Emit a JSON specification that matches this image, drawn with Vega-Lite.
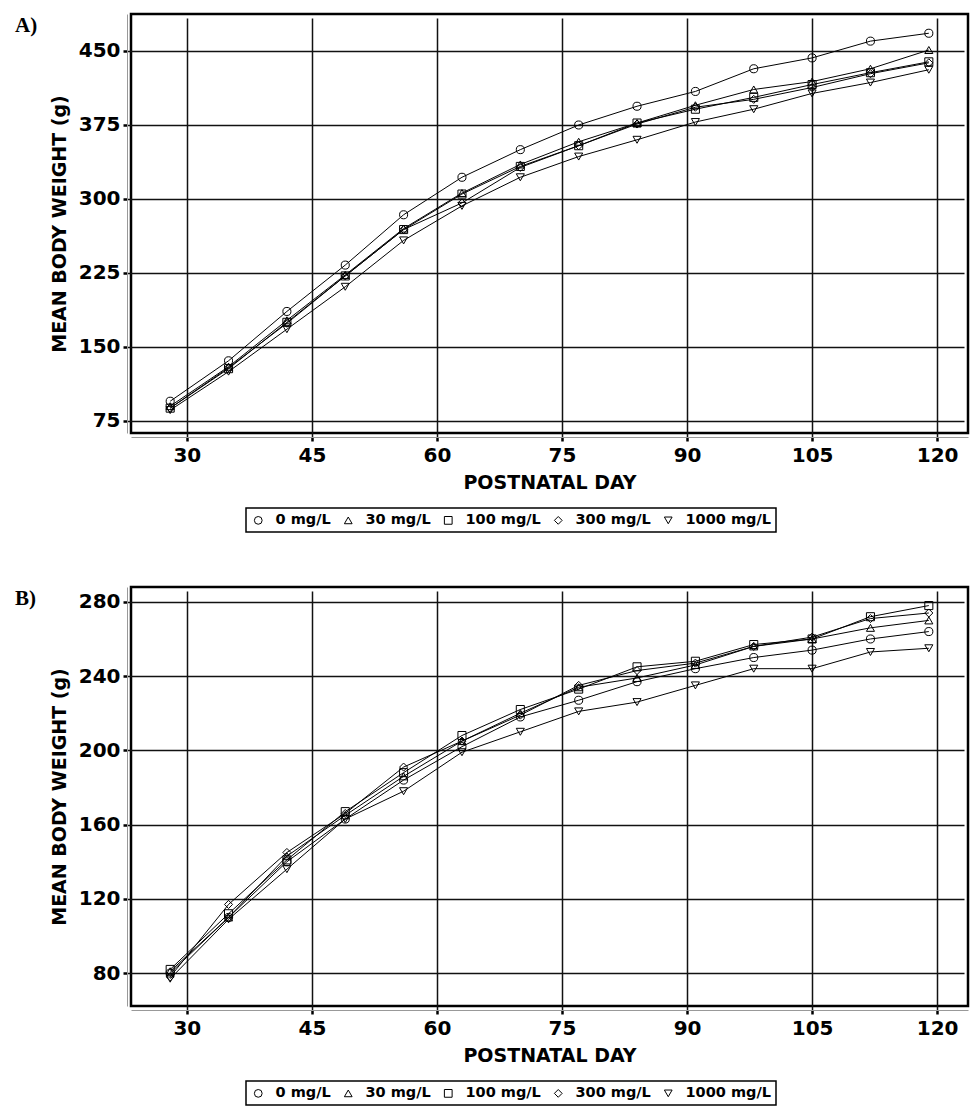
{
  "$schema": "https://vega.github.io/schema/vega-lite/v6.json",
  "padding": {"left": 13, "top": 12, "right": 2, "bottom": 0},
  "background": "white",
  "spacing": 51,
  "datasets": {
    "a": [
      {"day": 28, "dose": "0 mg/L", "weight": 95}, {"day": 28, "dose": "30 mg/L", "weight": 90}, {"day": 28, "dose": "100 mg/L", "weight": 88}, {"day": 28, "dose": "300 mg/L", "weight": 88}, {"day": 28, "dose": "1000 mg/L", "weight": 86},
      {"day": 35, "dose": "0 mg/L", "weight": 136}, {"day": 35, "dose": "30 mg/L", "weight": 130}, {"day": 35, "dose": "100 mg/L", "weight": 128}, {"day": 35, "dose": "300 mg/L", "weight": 129}, {"day": 35, "dose": "1000 mg/L", "weight": 125},
      {"day": 42, "dose": "0 mg/L", "weight": 186}, {"day": 42, "dose": "30 mg/L", "weight": 177}, {"day": 42, "dose": "100 mg/L", "weight": 175}, {"day": 42, "dose": "300 mg/L", "weight": 174}, {"day": 42, "dose": "1000 mg/L", "weight": 168},
      {"day": 49, "dose": "0 mg/L", "weight": 233}, {"day": 49, "dose": "30 mg/L", "weight": 223}, {"day": 49, "dose": "100 mg/L", "weight": 222}, {"day": 49, "dose": "300 mg/L", "weight": 222}, {"day": 49, "dose": "1000 mg/L", "weight": 211},
      {"day": 56, "dose": "0 mg/L", "weight": 284}, {"day": 56, "dose": "30 mg/L", "weight": 270}, {"day": 56, "dose": "100 mg/L", "weight": 269}, {"day": 56, "dose": "300 mg/L", "weight": 269}, {"day": 56, "dose": "1000 mg/L", "weight": 258},
      {"day": 63, "dose": "0 mg/L", "weight": 322}, {"day": 63, "dose": "30 mg/L", "weight": 306}, {"day": 63, "dose": "100 mg/L", "weight": 305}, {"day": 63, "dose": "300 mg/L", "weight": 296}, {"day": 63, "dose": "1000 mg/L", "weight": 293},
      {"day": 70, "dose": "0 mg/L", "weight": 350}, {"day": 70, "dose": "30 mg/L", "weight": 335}, {"day": 70, "dose": "100 mg/L", "weight": 333}, {"day": 70, "dose": "300 mg/L", "weight": 332}, {"day": 70, "dose": "1000 mg/L", "weight": 322},
      {"day": 77, "dose": "0 mg/L", "weight": 375}, {"day": 77, "dose": "30 mg/L", "weight": 358}, {"day": 77, "dose": "100 mg/L", "weight": 354}, {"day": 77, "dose": "300 mg/L", "weight": 354}, {"day": 77, "dose": "1000 mg/L", "weight": 343},
      {"day": 84, "dose": "0 mg/L", "weight": 394}, {"day": 84, "dose": "30 mg/L", "weight": 377}, {"day": 84, "dose": "100 mg/L", "weight": 377}, {"day": 84, "dose": "300 mg/L", "weight": 376}, {"day": 84, "dose": "1000 mg/L", "weight": 360},
      {"day": 91, "dose": "0 mg/L", "weight": 409}, {"day": 91, "dose": "30 mg/L", "weight": 395}, {"day": 91, "dose": "100 mg/L", "weight": 391}, {"day": 91, "dose": "300 mg/L", "weight": 393}, {"day": 91, "dose": "1000 mg/L", "weight": 378},
      {"day": 98, "dose": "0 mg/L", "weight": 432}, {"day": 98, "dose": "30 mg/L", "weight": 411}, {"day": 98, "dose": "100 mg/L", "weight": 403}, {"day": 98, "dose": "300 mg/L", "weight": 401}, {"day": 98, "dose": "1000 mg/L", "weight": 391},
      {"day": 105, "dose": "0 mg/L", "weight": 443}, {"day": 105, "dose": "30 mg/L", "weight": 419}, {"day": 105, "dose": "100 mg/L", "weight": 416}, {"day": 105, "dose": "300 mg/L", "weight": 413}, {"day": 105, "dose": "1000 mg/L", "weight": 407},
      {"day": 112, "dose": "0 mg/L", "weight": 460}, {"day": 112, "dose": "30 mg/L", "weight": 432}, {"day": 112, "dose": "100 mg/L", "weight": 428}, {"day": 112, "dose": "300 mg/L", "weight": 427}, {"day": 112, "dose": "1000 mg/L", "weight": 418},
      {"day": 119, "dose": "0 mg/L", "weight": 468}, {"day": 119, "dose": "30 mg/L", "weight": 451}, {"day": 119, "dose": "100 mg/L", "weight": 439}, {"day": 119, "dose": "300 mg/L", "weight": 438}, {"day": 119, "dose": "1000 mg/L", "weight": 431}
    ],
    "b": [
      {"day": 28, "dose": "0 mg/L", "weight": 80}, {"day": 28, "dose": "30 mg/L", "weight": 81}, {"day": 28, "dose": "100 mg/L", "weight": 82}, {"day": 28, "dose": "300 mg/L", "weight": 78}, {"day": 28, "dose": "1000 mg/L", "weight": 77},
      {"day": 35, "dose": "0 mg/L", "weight": 110}, {"day": 35, "dose": "30 mg/L", "weight": 110}, {"day": 35, "dose": "100 mg/L", "weight": 112}, {"day": 35, "dose": "300 mg/L", "weight": 117}, {"day": 35, "dose": "1000 mg/L", "weight": 109},
      {"day": 42, "dose": "0 mg/L", "weight": 140}, {"day": 42, "dose": "30 mg/L", "weight": 143}, {"day": 42, "dose": "100 mg/L", "weight": 141}, {"day": 42, "dose": "300 mg/L", "weight": 145}, {"day": 42, "dose": "1000 mg/L", "weight": 136},
      {"day": 49, "dose": "0 mg/L", "weight": 163}, {"day": 49, "dose": "30 mg/L", "weight": 165}, {"day": 49, "dose": "100 mg/L", "weight": 167}, {"day": 49, "dose": "300 mg/L", "weight": 166}, {"day": 49, "dose": "1000 mg/L", "weight": 163},
      {"day": 56, "dose": "0 mg/L", "weight": 184}, {"day": 56, "dose": "30 mg/L", "weight": 186}, {"day": 56, "dose": "100 mg/L", "weight": 188}, {"day": 56, "dose": "300 mg/L", "weight": 191}, {"day": 56, "dose": "1000 mg/L", "weight": 178},
      {"day": 63, "dose": "0 mg/L", "weight": 202}, {"day": 63, "dose": "30 mg/L", "weight": 205}, {"day": 63, "dose": "100 mg/L", "weight": 208}, {"day": 63, "dose": "300 mg/L", "weight": 205}, {"day": 63, "dose": "1000 mg/L", "weight": 199},
      {"day": 70, "dose": "0 mg/L", "weight": 218}, {"day": 70, "dose": "30 mg/L", "weight": 220}, {"day": 70, "dose": "100 mg/L", "weight": 222}, {"day": 70, "dose": "300 mg/L", "weight": 219}, {"day": 70, "dose": "1000 mg/L", "weight": 210},
      {"day": 77, "dose": "0 mg/L", "weight": 227}, {"day": 77, "dose": "30 mg/L", "weight": 234}, {"day": 77, "dose": "100 mg/L", "weight": 233}, {"day": 77, "dose": "300 mg/L", "weight": 235}, {"day": 77, "dose": "1000 mg/L", "weight": 221},
      {"day": 84, "dose": "0 mg/L", "weight": 237}, {"day": 84, "dose": "30 mg/L", "weight": 239}, {"day": 84, "dose": "100 mg/L", "weight": 245}, {"day": 84, "dose": "300 mg/L", "weight": 243}, {"day": 84, "dose": "1000 mg/L", "weight": 226},
      {"day": 91, "dose": "0 mg/L", "weight": 244}, {"day": 91, "dose": "30 mg/L", "weight": 246}, {"day": 91, "dose": "100 mg/L", "weight": 248}, {"day": 91, "dose": "300 mg/L", "weight": 247}, {"day": 91, "dose": "1000 mg/L", "weight": 235},
      {"day": 98, "dose": "0 mg/L", "weight": 250}, {"day": 98, "dose": "30 mg/L", "weight": 256}, {"day": 98, "dose": "100 mg/L", "weight": 257}, {"day": 98, "dose": "300 mg/L", "weight": 256}, {"day": 98, "dose": "1000 mg/L", "weight": 244},
      {"day": 105, "dose": "0 mg/L", "weight": 254}, {"day": 105, "dose": "30 mg/L", "weight": 260}, {"day": 105, "dose": "100 mg/L", "weight": 260}, {"day": 105, "dose": "300 mg/L", "weight": 261}, {"day": 105, "dose": "1000 mg/L", "weight": 244},
      {"day": 112, "dose": "0 mg/L", "weight": 260}, {"day": 112, "dose": "30 mg/L", "weight": 266}, {"day": 112, "dose": "100 mg/L", "weight": 272}, {"day": 112, "dose": "300 mg/L", "weight": 271}, {"day": 112, "dose": "1000 mg/L", "weight": 253},
      {"day": 119, "dose": "0 mg/L", "weight": 264}, {"day": 119, "dose": "30 mg/L", "weight": 270}, {"day": 119, "dose": "100 mg/L", "weight": 278}, {"day": 119, "dose": "300 mg/L", "weight": 274}, {"day": 119, "dose": "1000 mg/L", "weight": 255}
    ]
  },
  "config": {
    "view": {"stroke": "black", "strokeWidth": 2.5},
    "axis": {
      "domainColor": "#999999", "domainWidth": 1,
      "tickColor": "black", "tickWidth": 2.5, "tickSize": 4,
      "offset": 4,
      "labelFont": "DejaVu Sans", "labelFontWeight": "bold", "labelFontSize": 20, "labelColor": "black",
      "titleFont": "DejaVu Sans", "titleFontWeight": "bold", "titleFontSize": 19, "titleColor": "black",
      "grid": true, "gridColor": "#111111", "gridWidth": 1.5, "gridOpacity": 1
    },
    "axisX": {"labelPadding": 4, "titlePadding": 8},
    "axisY": {"labelPadding": 3, "titlePadding": 9},
    "title": {"font": "Liberation Serif", "fontSize": 21, "fontWeight": "bold", "color": "black", "anchor": "start", "frame": "group", "offset": 0, "dx": -116, "dy": 26, "baseline": "alphabetic"},
    "legend": {
      "orient": "none", "legendX": 115, "legendY": 494, "direction": "horizontal",
      "strokeColor": "black", "strokeWidth": 1.5, "fillColor": "white", "padding": 5,
      "labelFont": "DejaVu Sans", "labelFontWeight": "bold", "labelFontSize": 14.5, "labelColor": "black",
      "symbolStrokeColor": "black", "symbolStrokeWidth": 1, "symbolSize": 60, "symbolFillColor": "transparent",
      "columnPadding": 10, "labelOffset": 10
    }
  },
  "vconcat": [
    {
      "width": 837, "height": 419,
      "title": {"text": "A)"},
      "data": {"name": "a"},
      "encoding": {
        "x": {"field": "day", "type": "quantitative", "scale": {"domain": [23.3, 123.7], "nice": false, "zero": false}, "axis": {"values": [30, 45, 60, 75, 90, 105, 120], "title": "POSTNATAL DAY"}},
        "y": {"field": "weight", "type": "quantitative", "scale": {"domain": [62.8, 487.5], "nice": false, "zero": false}, "axis": {"values": [75, 150, 225, 300, 375, 450], "title": "MEAN BODY WEIGHT (g)"}}
      },
      "layer": [
        {"mark": {"type": "line", "color": "black", "strokeWidth": 1}, "encoding": {"detail": {"field": "dose", "type": "nominal"}}},
        {"mark": {"type": "point", "filled": false, "color": "black", "size": 65, "strokeWidth": 1, "opacity": 1},
         "encoding": {"shape": {"field": "dose", "type": "nominal", "scale": {"domain": ["0 mg/L", "30 mg/L", "100 mg/L", "300 mg/L", "1000 mg/L"], "range": ["circle", "triangle-up", "square", "diamond", "triangle-down"]}, "legend": {"title": null}}}}
      ]
    },
    {
      "width": 837, "height": 419,
      "title": {"text": "B)"},
      "data": {"name": "b"},
      "encoding": {
        "x": {"field": "day", "type": "quantitative", "scale": {"domain": [23.3, 123.7], "nice": false, "zero": false}, "axis": {"values": [30, 45, 60, 75, 90, 105, 120], "title": "POSTNATAL DAY"}},
        "y": {"field": "weight", "type": "quantitative", "scale": {"domain": [62.3, 288], "nice": false, "zero": false}, "axis": {"values": [80, 120, 160, 200, 240, 280], "title": "MEAN BODY WEIGHT (g)"}}
      },
      "layer": [
        {"mark": {"type": "line", "color": "black", "strokeWidth": 1}, "encoding": {"detail": {"field": "dose", "type": "nominal"}}},
        {"mark": {"type": "point", "filled": false, "color": "black", "size": 65, "strokeWidth": 1, "opacity": 1},
         "encoding": {"shape": {"field": "dose", "type": "nominal", "scale": {"domain": ["0 mg/L", "30 mg/L", "100 mg/L", "300 mg/L", "1000 mg/L"], "range": ["circle", "triangle-up", "square", "diamond", "triangle-down"]}, "legend": {"title": null}}}}
      ]
    }
  ],
  "resolve": {"scale": {"y": "independent", "shape": "independent"}, "legend": {"shape": "independent"}}
}
